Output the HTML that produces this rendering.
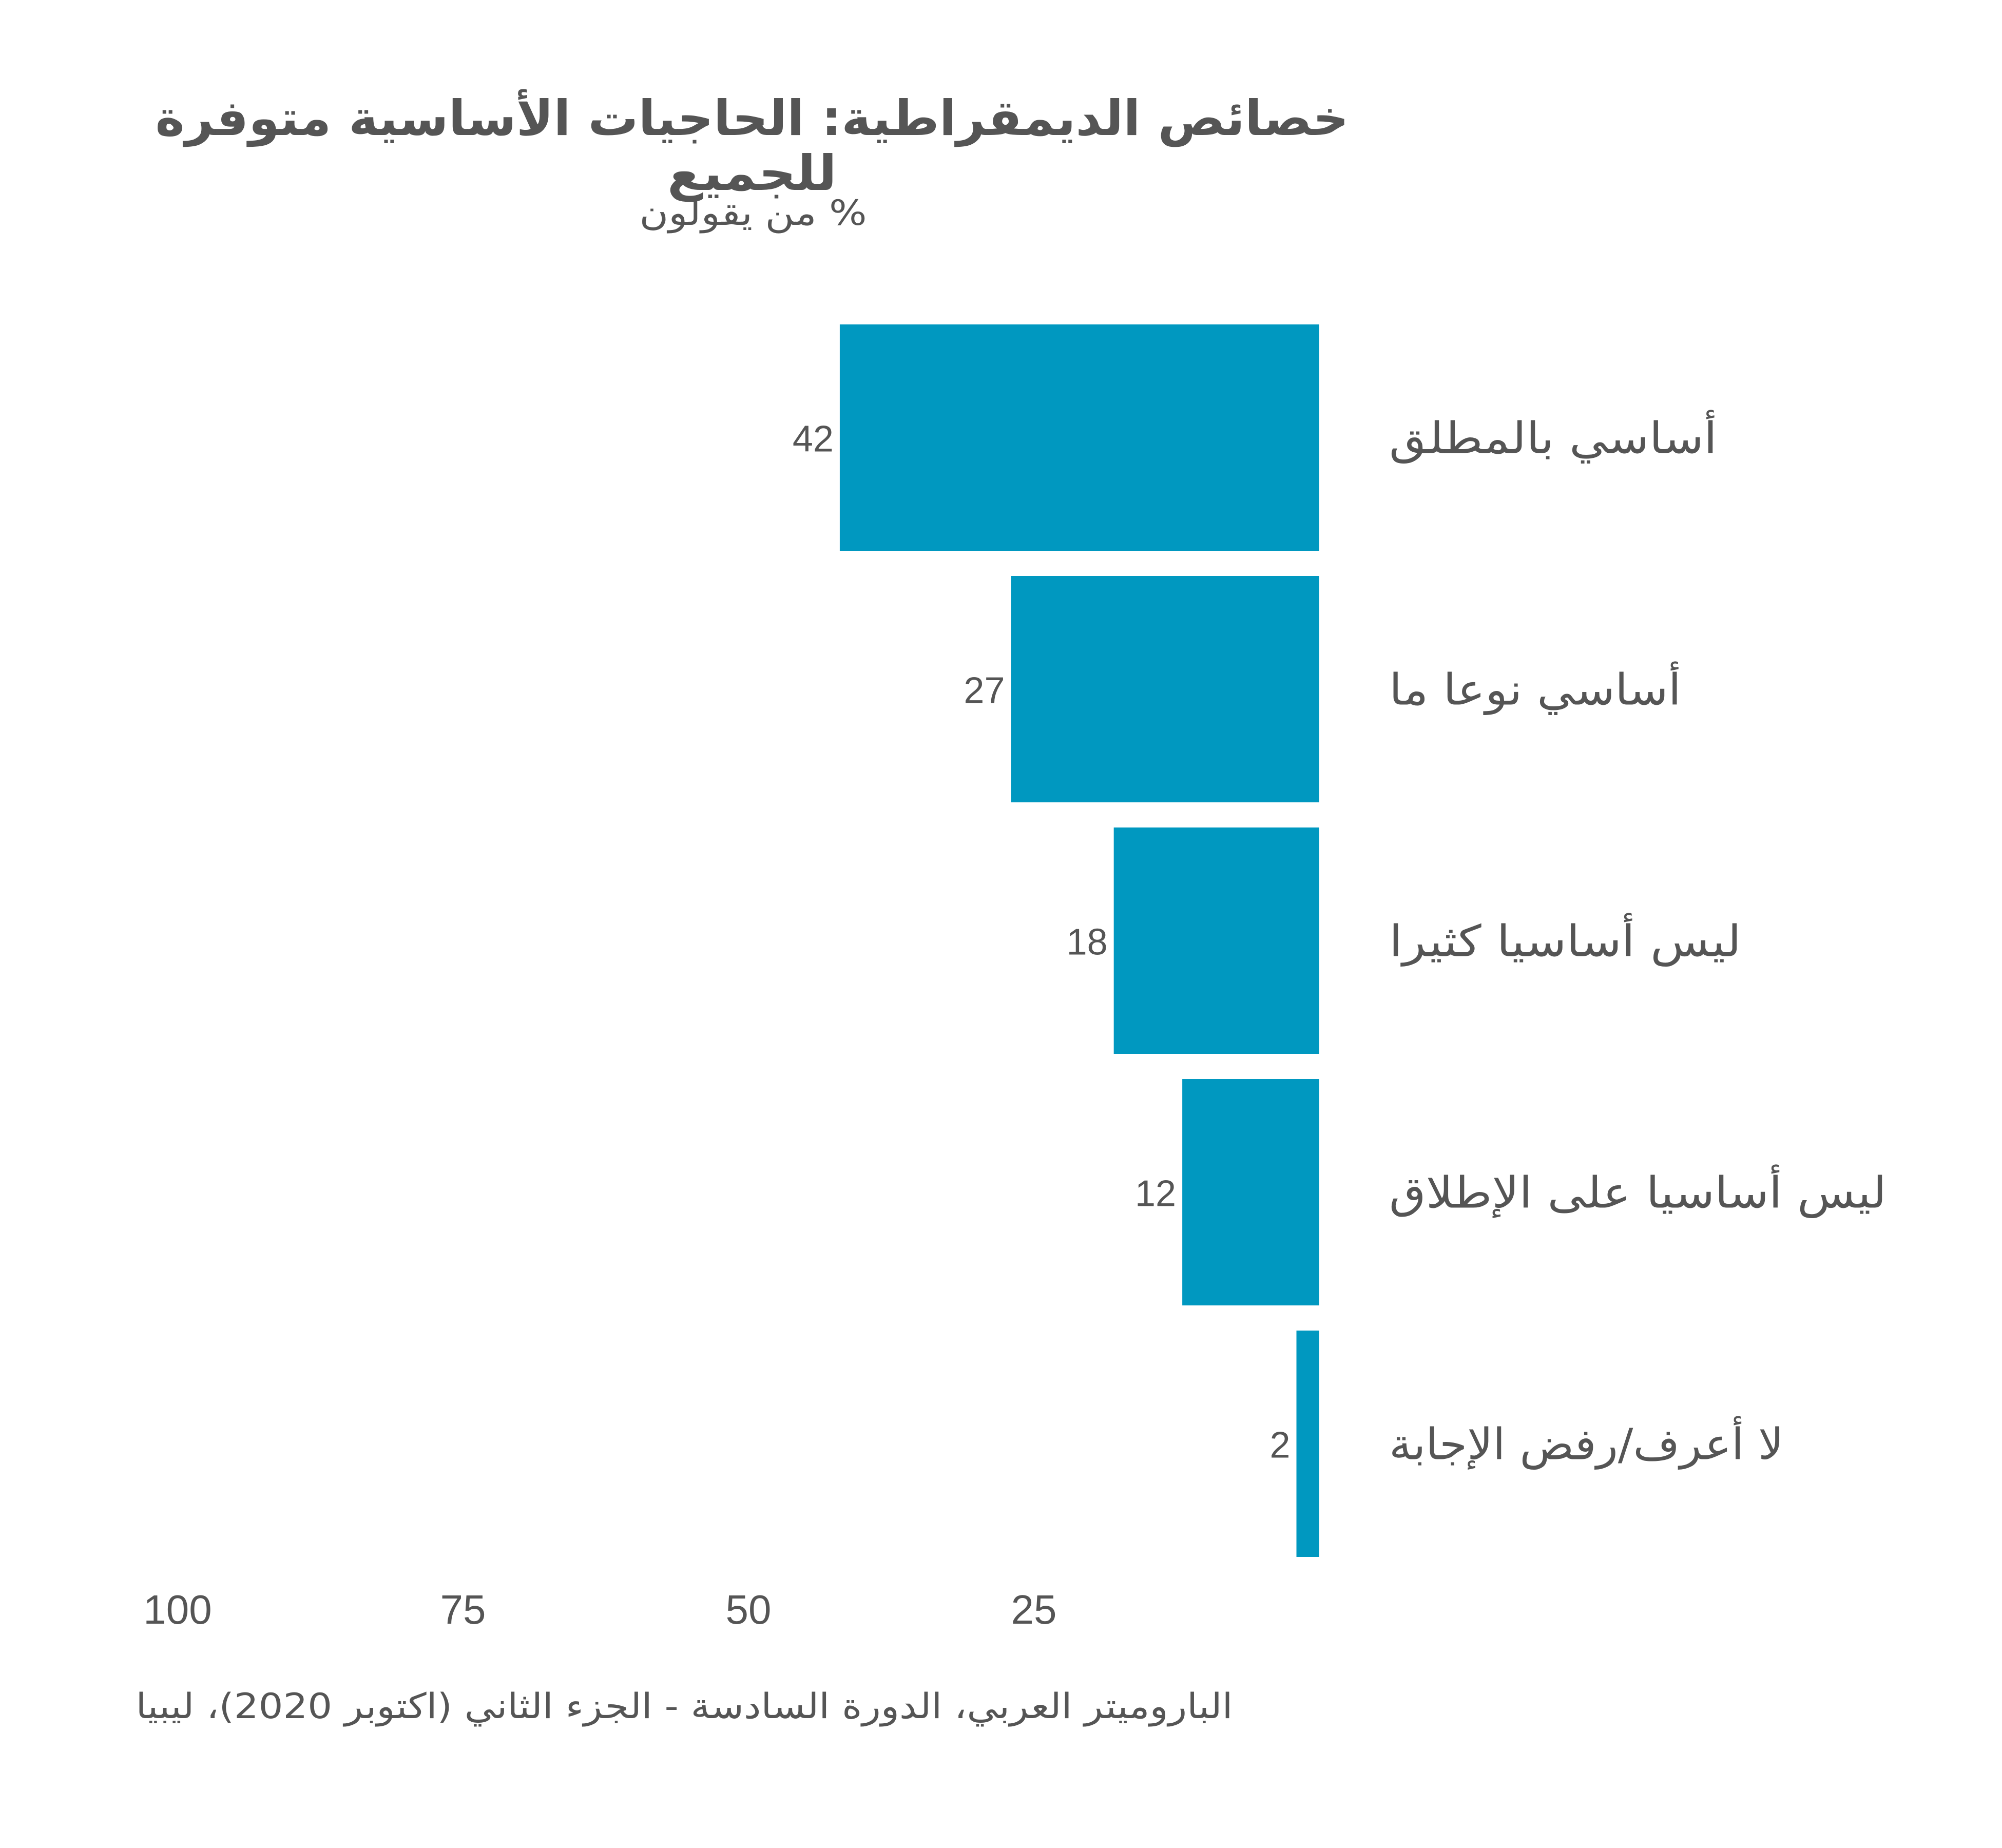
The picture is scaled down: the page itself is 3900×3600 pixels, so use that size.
<!DOCTYPE html>
<html><head><meta charset="utf-8"><style>
html,body{margin:0;padding:0;background:#fff;}
svg{display:block;}
text{font-family:"DejaVu Sans","Liberation Sans",sans-serif;fill:#555;}
.num{font-family:"Liberation Sans","DejaVu Sans",sans-serif;}
</style></head><body>
<svg id="chart" width="3900" height="3600" viewBox="0 0 3900 3600" xmlns="http://www.w3.org/2000/svg">
<text x="1465" y="263" text-anchor="middle" font-size="95" font-weight="bold" direction="rtl" textLength="2325" lengthAdjust="spacingAndGlyphs">خصائص الديمقراطية: الحاجيات الأساسية متوفرة</text>
<text x="1465" y="370" text-anchor="middle" font-size="95" font-weight="bold" direction="rtl" textLength="330" lengthAdjust="spacingAndGlyphs">للجميع</text>
<text x="1467" y="438" text-anchor="middle" font-size="68" direction="rtl" textLength="443" lengthAdjust="spacingAndGlyphs">% من يقولون</text>
<g id="bars"></g>
<g id="ticks"></g>
<text x="1333" y="3347" text-anchor="middle" font-size="68" direction="rtl" textLength="2137" lengthAdjust="spacingAndGlyphs">الباروميتر العربي، الدورة السادسة - الجزء الثاني (اكتوبر 2020)، ليبيا</text>
</svg>
<script>
const categories = ["أساسي بالمطلق","أساسي نوعا ما","ليس أساسيا كثيرا","ليس أساسيا على الإطلاق","لا أعرف/رفض الإجابة"];
const values = [42, 27, 18, 12, 2];
const tickValues = [100, 75, 50, 25];
const labelWidths = [639, 569, 686, 969, 769];

const NS = "http://www.w3.org/2000/svg";
const x0 = 2570, unit = 22.24;
function xScale(v){ return x0 - v*unit; }
const yTop = 632, step = 490, barH = 441;
function yScale(i){ return yTop + i*step; }

const gb = document.getElementById('bars');
values.forEach((v,i)=>{
  const r = document.createElementNS(NS,'rect');
  
  
  r.setAttribute('x', xScale(v));
  r.setAttribute('y', yScale(i));
  r.setAttribute('width', x0 - xScale(v));
  r.setAttribute('height', barH);
  r.setAttribute('fill', '#0098c0');
  gb.appendChild(r);
  const t = document.createElementNS(NS,'text');
  
  
  t.setAttribute('class','num');
  t.setAttribute('x', xScale(v) - 12);
  t.setAttribute('y', yScale(i) + barH/2 + 27);
  t.setAttribute('text-anchor','end');
  t.setAttribute('font-size','72');
  t.textContent = v;
  gb.appendChild(t);
  const c = document.createElementNS(NS,'text');
  
  
  c.setAttribute('x', 2706 + labelWidths[i]/2);
  c.setAttribute('y', yScale(i) + barH/2 + 30);
  c.setAttribute('text-anchor','middle');
  c.setAttribute('direction','rtl');
  c.setAttribute('font-size','84');
  c.setAttribute('textLength', labelWidths[i]);
  c.setAttribute('lengthAdjust','spacingAndGlyphs');
  c.textContent = categories[i];
  gb.appendChild(c);
});
const gt = document.getElementById('ticks');
tickValues.forEach(v=>{
  const t = document.createElementNS(NS,'text');
  
  
  t.setAttribute('class','num');
  t.setAttribute('x', xScale(v));
  t.setAttribute('y', 3163);
  t.setAttribute('text-anchor','middle');
  t.setAttribute('font-size','80');
  t.textContent = v;
  gt.appendChild(t);
});
</script>
</body></html>
